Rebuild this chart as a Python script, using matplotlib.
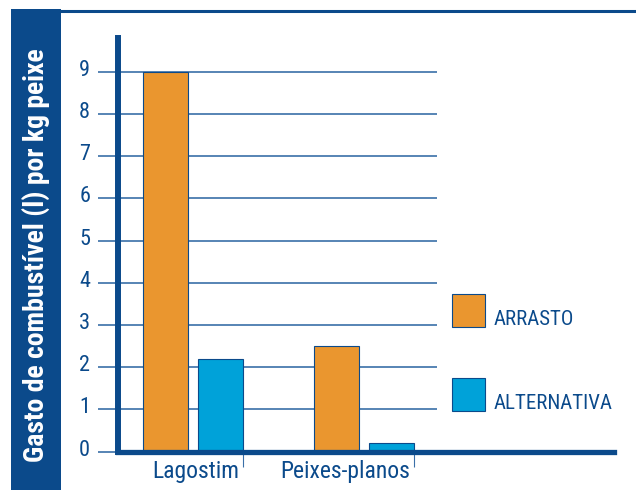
import numpy as np
import matplotlib.pyplot as plt
from matplotlib.patches import Rectangle
from matplotlib.lines import Line2D
from matplotlib.transforms import ScaledTranslation

# chart data
categories = ['Lagostim', 'Peixes-planos']
series = ['ARRASTO', 'ALTERNATIVA']
arrasto = [9.0, 2.5]
alternativa = [2.2, 0.2]
yticks = list(range(0, 10))
ylabel = 'Gasto de combustível (l) por kg peixe'

navy = '#0b4a8b'
grid_col = '#3a6fa8'
orange = '#ea962f'
blue = '#00a2d9'
colors = [orange, blue]

plt.rcParams['font.family'] = ['Roboto Condensed', 'DejaVu Sans']

W, H = 636, 490
fig = plt.figure(figsize=(W / 100, H / 100), dpi=100)


def fx(px):
    return px / W


def fy(py):
    return 1 - py / H


# axes: y axis at px 118, zero line at px 451.5, top at px 38
ax = fig.add_axes([fx(118), fy(451.5), fx(614) - fx(118), fy(38) - fy(451.5)])

x = np.arange(len(categories))
w = 0.263
off = 0.16
ax.bar(x - off, arrasto, w, color=orange, edgecolor=navy, linewidth=0.8, zorder=2)
ax.bar(x + off, alternativa, w, color=blue, edgecolor=navy, linewidth=0.8, zorder=2)

ax.set_xlim(-0.4386, 2.462)
ax.set_ylim(0, 9.8)

# horizontal grid lines (stick out left of the y axis, stop before legend)
ax.hlines(yticks, -0.556, 1.427, color=grid_col, linewidth=1.2,
          clip_on=False, zorder=0.5)

for s in ['top', 'right']:
    ax.spines[s].set_visible(False)
ax.spines['left'].set_linewidth(4.3)
ax.spines['left'].set_color(navy)
ax.spines['bottom'].set_linewidth(3.8)
ax.spines['bottom'].set_color(navy)

ax.set_yticks(yticks)
ax.set_yticklabels([str(t) for t in yticks])
ax.tick_params(axis='y', length=0, pad=20, labelsize=16, labelcolor=navy)
# numbers sit a little above their grid lines
shift = ScaledTranslation(0, 4 / 100, fig.dpi_scale_trans)
for lab in ax.get_yticklabels():
    lab.set_transform(lab.get_transform() + shift)

# separator ticks under each group, labels right aligned to them
sep = x + off + w / 2
ax.set_xticks(sep)
ax.set_xticklabels([])
ax.tick_params(axis='x', direction='out', length=11, width=0.8, color=grid_col)
for xs, name in zip(sep, categories):
    ax.text(xs - 0.02, -0.63, name, ha='right', va='baseline', fontsize=17,
            color=navy, clip_on=False)

# left band with rotated label
fig.patches.append(Rectangle((fx(11), 0), fx(61) - fx(11), fy(9), transform=fig.transFigure,
                             facecolor=navy, edgecolor='none'))
fig.text(fx(36), fy(255), ylabel, rotation=90, ha='center', va='center',
         color='white', fontsize=20, fontweight='bold')

# top border line
fig.lines.append(Line2D([fx(61), 1], [fy(11), fy(11)], transform=fig.transFigure,
                        color=navy, linewidth=2.2))

# legend boxes
for i, (name, c) in enumerate(zip(series, colors)):
    top = 294 + i * 84
    fig.patches.append(Rectangle((fx(452), fy(top + 33)), fx(33), 33 / H,
                                 transform=fig.transFigure, facecolor=c,
                                 edgecolor=navy, linewidth=0.8))
    fig.text(fx(494), fy(top + 31), name, ha='left', va='baseline',
             fontsize=15, color=navy)

fig.savefig('out.png', dpi=100)
